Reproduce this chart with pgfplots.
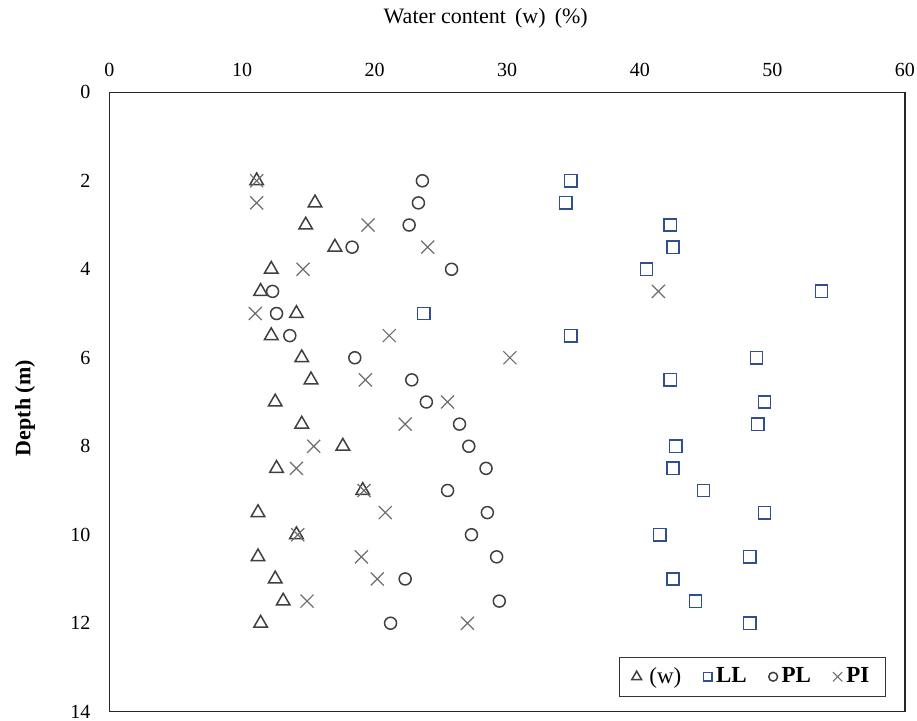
\documentclass[border=0pt]{standalone}
\usepackage{pgfplots}
\pgfplotsset{compat=1.18}
\usepackage{fontspec}
\setmainfont{Liberation Serif}
\definecolor{sqblue}{HTML}{2F4F8F}
\definecolor{mkgray}{HTML}{3F3F3F}
\definecolor{xgray}{HTML}{6E6E6E}
\begin{document}
\begin{tikzpicture}
\useasboundingbox (-54.75pt,-4.65pt) rectangle (403.75pt,355.85pt);
\begin{axis}[
  scale only axis,
  width=397.75pt, height=309.7pt,
  xmin=0, xmax=60, ymin=0, ymax=14,
  y dir=reverse,
  xtick={0,10,...,60}, ytick={0,2,...,14},
  xticklabel pos=upper,
  major tick length=0pt,
  axis line style={line width=0.7pt, color=black!85},
  /pgf/number format/assume math mode=true,
  ticklabel style={font=\fontsize{10}{12}\selectfont},
  xtick style={draw=none}, ytick style={draw=none},
  x tick label style={yshift=4.5pt},
  y tick label style={xshift=-6pt},
  xlabel={Water content\, (w)\, (\%)},
  xlabel style={at={(axis description cs:0.473,1.12)}, anchor=center, font=\fontsize{11}{13}\selectfont},
  ylabel={\textbf{Depth (m)}},
  ylabel style={at={(axis description cs:-0.106,0.49)}, anchor=center, rotate=0, font=\fontsize{11}{13}\selectfont},
  legend columns=4,
  legend style={at={(rel axis cs:0.976,0.024)}, anchor=south east, draw=black!80, line width=0.6pt,
    font=\fontsize{11.5}{13}\selectfont, inner xsep=6pt, inner ysep=3pt,
    /tikz/every even column/.append style={column sep=9pt}},
  legend cell align=left,
  legend image code/.code={\draw[mark repeat=2,mark phase=2] plot coordinates {(0cm,0cm)(0.17cm,0cm)(0.34cm,0cm)};},
]
% Water content (w)
\addplot[only marks, mark=triangle, mark size=3.9pt, color=mkgray, line width=0.75pt,
  legend image post style={mark size=2.8pt}] coordinates {
(11.1,2) (15.5,2.5) (14.8,3) (17.0,3.5) (12.2,4) (11.4,4.5) (14.1,5) (12.2,5.5)
(14.5,6) (15.2,6.5) (12.5,7) (14.5,7.5) (17.6,8) (12.6,8.5) (19.1,9) (11.2,9.5)
(14.1,10) (11.2,10.5) (12.5,11) (13.1,11.5) (11.4,12)
};
\addlegendentry{\,(w)}
% LL
\addplot[only marks, mark=square, mark size=3.1pt, color=sqblue, line width=0.75pt,
  legend image post style={mark size=2.2pt}] coordinates {
(34.8,2) (34.4,2.5) (42.3,3) (42.5,3.5) (40.5,4) (53.7,4.5) (23.7,5) (34.8,5.5)
(48.8,6) (42.3,6.5) (49.4,7) (48.9,7.5) (42.7,8) (42.5,8.5) (44.8,9) (49.4,9.5)
(41.5,10) (48.3,10.5) (42.5,11) (44.2,11.5) (48.3,12)
};
\addlegendentry{\textbf{LL}}
% PL
\addplot[only marks, mark=o, mark size=3.0pt, color=mkgray, line width=0.75pt,
  legend image post style={mark size=2.2pt}] coordinates {
(23.6,2) (23.3,2.5) (22.6,3) (18.3,3.5) (25.8,4) (12.3,4.5) (12.6,5) (13.6,5.5)
(18.5,6) (22.8,6.5) (23.9,7) (26.4,7.5) (27.1,8) (28.4,8.5) (25.5,9) (28.5,9.5)
(27.3,10) (29.2,10.5) (22.3,11) (29.4,11.5) (21.2,12)
};
\addlegendentry{\textbf{PL}}
% PI
\addplot[only marks, mark=x, mark size=4.6pt, color=xgray, line width=0.6pt,
  legend image post style={mark size=3.3pt}] coordinates {
(11.1,2) (11.1,2.5) (19.5,3) (24.0,3.5) (14.6,4) (41.4,4.5) (11.0,5) (21.1,5.5)
(30.2,6) (19.3,6.5) (25.5,7) (22.3,7.5) (15.4,8) (14.1,8.5) (19.2,9) (20.8,9.5)
(14.2,10) (19.0,10.5) (20.2,11) (14.9,11.5) (27.0,12)
};
\addlegendentry{\textbf{PI}}
\end{axis}
\end{tikzpicture}
\end{document}
